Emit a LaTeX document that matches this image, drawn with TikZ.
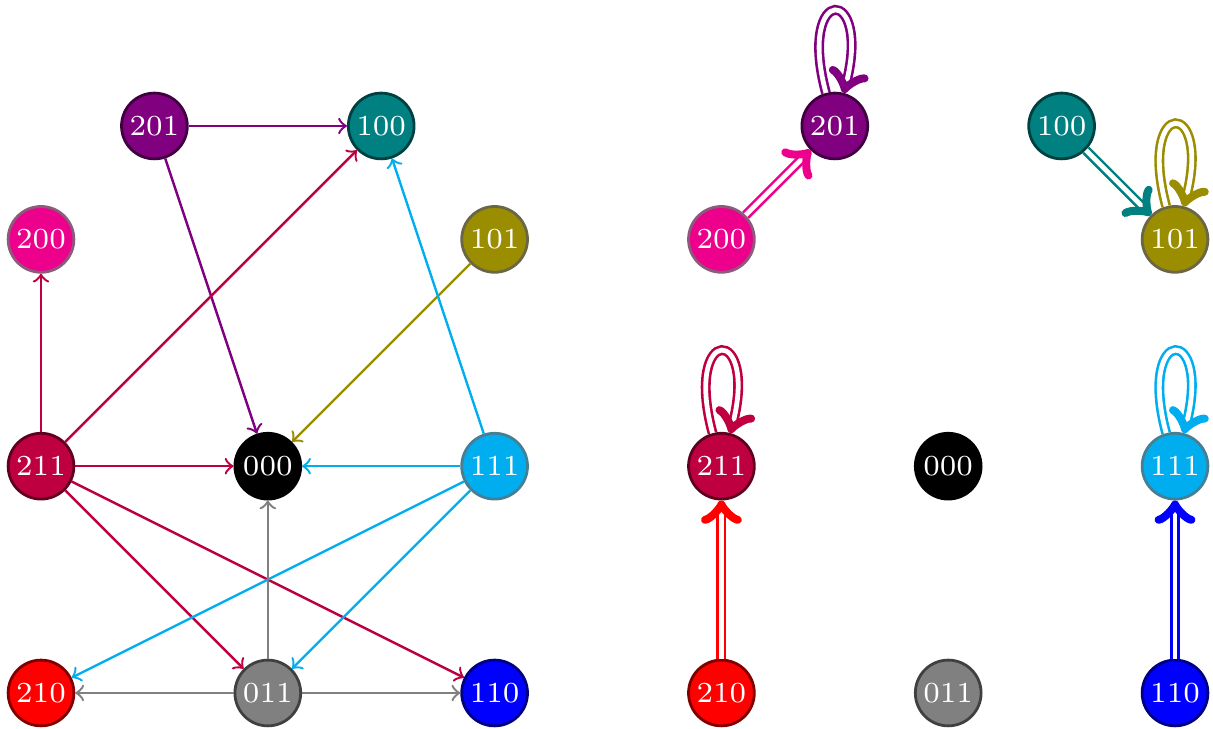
\documentclass[tikz,border=0pt]{standalone}
\usetikzlibrary{arrows}
\definecolor{cViolet}{HTML}{800080}
\definecolor{cTeal}{HTML}{008080}
\definecolor{cMagenta}{HTML}{EC008C}
\definecolor{cOlive}{HTML}{9A8D00}
\definecolor{cPurple}{HTML}{BF0040}
\definecolor{cCyan}{HTML}{00AEEF}
\definecolor{cRed}{HTML}{FF0000}
\definecolor{cGray}{HTML}{808080}
\definecolor{cBlue}{HTML}{0000FF}
\definecolor{cBlack}{HTML}{000000}
\definecolor{bViolet}{HTML}{400040}
\definecolor{bTeal}{HTML}{004040}
\definecolor{bMagenta}{HTML}{8C5A7A}
\definecolor{bOlive}{HTML}{6B6645}
\definecolor{bPurple}{HTML}{600020}
\definecolor{bCyan}{HTML}{457F95}
\definecolor{bRed}{HTML}{800000}
\definecolor{bGray}{HTML}{404040}
\definecolor{bBlue}{HTML}{000080}
\definecolor{bBlack}{HTML}{000000}
\begin{document}
\begin{tikzpicture}[
  st/.style={circle, minimum size=0.58cm, inner sep=0pt, line width=0.7pt,
    text=white, font=\fontsize{7.3}{9}\selectfont, fill=c#1, draw=b#1},
  ed/.style={->, semithick, draw=c#1},
  dd/.style={->, line width=0.65pt, double distance=1.2pt, double=white, draw=c#1},
  lp/.style={dd=#1, loop above, looseness=1, min distance=1cm}
]
\useasboundingbox (-0.3616,-0.317) rectangle (10.335,6.111);
% left graph
\node[st=Violet] (a201) at (1,5) {201};
\node[st=Teal] (a100) at (3,5) {100};
\node[st=Magenta] (a200) at (0,4) {200};
\node[st=Olive] (a101) at (4,4) {101};
\node[st=Purple] (a211) at (0,2) {211};
\node[st=Black] (a000) at (2,2) {000};
\node[st=Cyan] (a111) at (4,2) {111};
\node[st=Red] (a210) at (0,0) {210};
\node[st=Gray] (a011) at (2,0) {011};
\node[st=Blue] (a110) at (4,0) {110};
\draw[ed=Violet] (a201) -- (a100);
\draw[ed=Violet] (a201) -- (a000);
\draw[ed=Purple] (a211) -- (a200);
\draw[ed=Purple] (a211) -- (a100);
\draw[ed=Purple] (a211) -- (a000);
\draw[ed=Purple] (a211) -- (a011);
\draw[ed=Purple] (a211) -- (a110);
\draw[ed=Olive] (a101) -- (a000);
\draw[ed=Cyan] (a111) -- (a100);
\draw[ed=Cyan] (a111) -- (a000);
\draw[ed=Cyan] (a111) -- (a210);
\draw[ed=Cyan] (a111) -- (a011);
\draw[ed=Gray] (a011) -- (a000);
\draw[ed=Gray] (a011) -- (a210);
\draw[ed=Gray] (a011) -- (a110);
% right graph
\node[st=Violet] (b201) at (7,5) {201};
\node[st=Teal] (b100) at (9,5) {100};
\node[st=Magenta] (b200) at (6,4) {200};
\node[st=Olive] (b101) at (10,4) {101};
\node[st=Purple] (b211) at (6,2) {211};
\node[st=Black] (b000) at (8,2) {000};
\node[st=Cyan] (b111) at (10,2) {111};
\node[st=Red] (b210) at (6,0) {210};
\node[st=Gray] (b011) at (8,0) {011};
\node[st=Blue] (b110) at (10,0) {110};
\draw[dd=Magenta] (b200) -- (b201);
\draw[lp=Violet] (b201) to (b201);
\draw[dd=Teal] (b100) -- (b101);
\draw[lp=Olive] (b101) to (b101);
\draw[lp=Purple] (b211) to (b211);
\draw[dd=Red] (b210) -- (b211);
\draw[lp=Cyan] (b111) to (b111);
\draw[dd=Blue] (b110) -- (b111);
\end{tikzpicture}
\end{document}
